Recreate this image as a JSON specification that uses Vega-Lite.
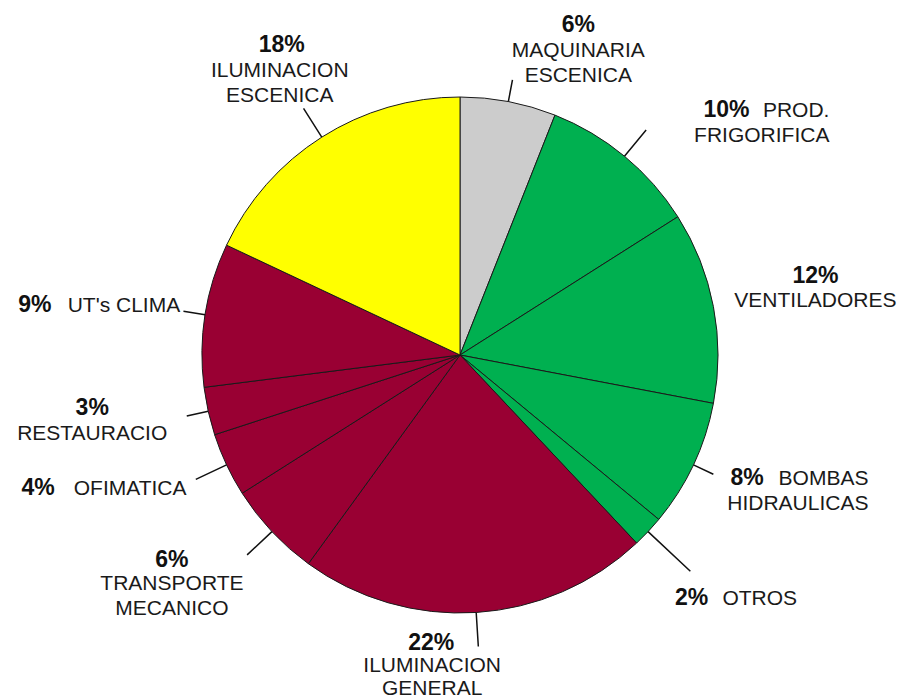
{
  "$schema": "https://vega.github.io/schema/vega-lite/v6.json",
  "autosize": {"type": "none"},
  "width": 884,
  "height": 690,
  "padding": {"left": 18, "top": 10, "right": 0, "bottom": 0},
  "background": "white",
  "config": {"view": {"stroke": null}},
  "data": {"values": [
    {"cat": "MAQUINARIA ESCENICA", "pct": 6, "label": "6%", "name": "MAQUINARIA\nESCENICA"},
    {"cat": "PROD. FRIGORIFICA", "pct": 10, "label": "10%", "name": "PROD.\nFRIGORIFICA"},
    {"cat": "VENTILADORES", "pct": 12, "label": "12%", "name": "VENTILADORES"},
    {"cat": "BOMBAS HIDRAULICAS", "pct": 8, "label": "8%", "name": "BOMBAS\nHIDRAULICAS"},
    {"cat": "OTROS", "pct": 2, "label": "2%", "name": "OTROS"},
    {"cat": "ILUMINACION GENERAL", "pct": 22, "label": "22%", "name": "ILUMINACION\nGENERAL"},
    {"cat": "TRANSPORTE MECANICO", "pct": 6, "label": "6%", "name": "TRANSPORTE\nMECANICO"},
    {"cat": "OFIMATICA", "pct": 4, "label": "4%", "name": "OFIMATICA"},
    {"cat": "RESTAURACIO", "pct": 3, "label": "3%", "name": "RESTAURACIO"},
    {"cat": "UT's CLIMA", "pct": 9, "label": "9%", "name": "UT's CLIMA"},
    {"cat": "ILUMINACION ESCENICA", "pct": 18, "label": "18%", "name": "ILUMINACION\nESCENICA"}
  ]},
  "transform": [{"window": [{"op": "row_number", "as": "k"}]}],
  "encoding": {
    "theta": {"field": "pct", "type": "quantitative", "stack": true},
    "order": {"field": "k", "type": "quantitative", "sort": "ascending"}
  },
  "layer": [
    {
      "mark": {"type": "arc", "outerRadius": 258, "stroke": "#1a1a1a", "strokeWidth": 1},
      "encoding": {
        "color": {"field": "cat", "type": "nominal", "legend": null,
          "scale": {
            "domain": ["MAQUINARIA ESCENICA", "PROD. FRIGORIFICA", "VENTILADORES", "BOMBAS HIDRAULICAS", "OTROS", "ILUMINACION GENERAL", "TRANSPORTE MECANICO", "OFIMATICA", "RESTAURACIO", "UT's CLIMA", "ILUMINACION ESCENICA"],
            "range": ["#cccccc", "#00b050", "#00b050", "#00b050", "#00b050", "#990033", "#990033", "#990033", "#990033", "#990033", "#ffff00"]
          }}
      }
    },
    {
      "mark": {"type": "arc", "innerRadius": 258, "outerRadius": 280, "padAngle": 3, "fillOpacity": 0, "fill": "white", "stroke": "#111", "strokeWidth": 1.5},
      "encoding": {
        "strokeOpacity": {"condition": {"test": "indexof([1, 4, 9, 10], datum.k) >= 0", "value": 1}, "value": 0}
      }
    },
    {
      "mark": {"type": "arc", "innerRadius": 258, "outerRadius": 292, "padAngle": 3, "fillOpacity": 0, "fill": "white", "stroke": "#111", "strokeWidth": 1.5},
      "encoding": {
        "strokeOpacity": {"condition": {"test": "indexof([2, 6, 7, 8, 11], datum.k) >= 0", "value": 1}, "value": 0}
      }
    },
    {
      "mark": {"type": "arc", "innerRadius": 258, "outerRadius": 316, "padAngle": 3, "fillOpacity": 0, "fill": "white", "stroke": "#111", "strokeWidth": 1.5},
      "encoding": {
        "strokeOpacity": {"condition": {"test": "datum.k === 5", "value": 1}, "value": 0}
      }
    },
    {"mark": {"type": "text", "radius": 258, "dx": 70, "dy": -70, "align": "center", "baseline": "alphabetic", "font": "Liberation Sans", "fontSize": 23, "fontWeight": "bold", "color": "#111"},
     "encoding": {"text": {"condition": {"test": "datum.k === 1", "field": "label", "type": "nominal"}, "value": ""}}},
    {"mark": {"type": "text", "radius": 258, "dx": 70, "dy": -45, "align": "center", "baseline": "alphabetic", "font": "Liberation Sans", "fontSize": 21, "lineBreak": "\n", "lineHeight": 25, "color": "#1a1a1a"},
     "encoding": {"text": {"condition": {"test": "datum.k === 1", "field": "name", "type": "nominal"}, "value": ""}}},

    {"mark": {"type": "text", "radius": 258, "dx": 79, "dy": -39, "align": "left", "baseline": "alphabetic", "font": "Liberation Sans", "fontSize": 23, "fontWeight": "bold", "color": "#111"},
     "encoding": {"text": {"condition": {"test": "datum.k === 2", "field": "label", "type": "nominal"}, "value": ""}}},
    {"mark": {"type": "text", "radius": 258, "dx": 205, "dy": -39, "align": "right", "baseline": "alphabetic", "font": "Liberation Sans", "fontSize": 21, "lineBreak": "\n", "lineHeight": 25, "color": "#1a1a1a"},
     "encoding": {"text": {"condition": {"test": "datum.k === 2", "field": "name", "type": "nominal"}, "value": ""}}},

    {"mark": {"type": "text", "radius": 258, "dx": 102, "dy": -24, "align": "center", "baseline": "alphabetic", "font": "Liberation Sans", "fontSize": 23, "fontWeight": "bold", "color": "#111"},
     "encoding": {"text": {"condition": {"test": "datum.k === 3", "field": "label", "type": "nominal"}, "value": ""}}},
    {"mark": {"type": "text", "radius": 258, "dx": 102, "dy": 0, "align": "center", "baseline": "alphabetic", "font": "Liberation Sans", "fontSize": 21, "lineBreak": "\n", "lineHeight": 25, "color": "#1a1a1a"},
     "encoding": {"text": {"condition": {"test": "datum.k === 3", "field": "name", "type": "nominal"}, "value": ""}}},

    {"mark": {"type": "text", "radius": 258, "dx": 37, "dy": 20, "align": "left", "baseline": "alphabetic", "font": "Liberation Sans", "fontSize": 23, "fontWeight": "bold", "color": "#111"},
     "encoding": {"text": {"condition": {"test": "datum.k === 4", "field": "label", "type": "nominal"}, "value": ""}}},
    {"mark": {"type": "text", "radius": 258, "dx": 175, "dy": 20, "align": "right", "baseline": "alphabetic", "font": "Liberation Sans", "fontSize": 21, "lineBreak": "\n", "lineHeight": 25, "color": "#1a1a1a"},
     "encoding": {"text": {"condition": {"test": "datum.k === 4", "field": "name", "type": "nominal"}, "value": ""}}},

    {"mark": {"type": "text", "radius": 258, "dx": 27, "dy": 73, "align": "left", "baseline": "alphabetic", "font": "Liberation Sans", "fontSize": 23, "fontWeight": "bold", "color": "#111"},
     "encoding": {"text": {"condition": {"test": "datum.k === 5", "field": "label", "type": "nominal"}, "value": ""}}},
    {"mark": {"type": "text", "radius": 258, "dx": 149, "dy": 73, "align": "right", "baseline": "alphabetic", "font": "Liberation Sans", "fontSize": 21, "lineBreak": "\n", "lineHeight": 25, "color": "#1a1a1a"},
     "encoding": {"text": {"condition": {"test": "datum.k === 5", "field": "name", "type": "nominal"}, "value": ""}}},

    {"mark": {"type": "text", "radius": 258, "dx": -45, "dy": 38, "align": "center", "baseline": "alphabetic", "font": "Liberation Sans", "fontSize": 23, "fontWeight": "bold", "color": "#111"},
     "encoding": {"text": {"condition": {"test": "datum.k === 6", "field": "label", "type": "nominal"}, "value": ""}}},
    {"mark": {"type": "text", "radius": 258, "dx": -44, "dy": 60, "align": "center", "baseline": "alphabetic", "font": "Liberation Sans", "fontSize": 21, "lineBreak": "\n", "lineHeight": 23, "color": "#1a1a1a"},
     "encoding": {"text": {"condition": {"test": "datum.k === 6", "field": "name", "type": "nominal"}, "value": ""}}},

    {"mark": {"type": "text", "radius": 258, "dx": -100, "dy": 35, "align": "center", "baseline": "alphabetic", "font": "Liberation Sans", "fontSize": 23, "fontWeight": "bold", "color": "#111"},
     "encoding": {"text": {"condition": {"test": "datum.k === 7", "field": "label", "type": "nominal"}, "value": ""}}},
    {"mark": {"type": "text", "radius": 258, "dx": -100, "dy": 58, "align": "center", "baseline": "alphabetic", "font": "Liberation Sans", "fontSize": 21, "lineBreak": "\n", "lineHeight": 25, "color": "#1a1a1a"},
     "encoding": {"text": {"condition": {"test": "datum.k === 7", "field": "name", "type": "nominal"}, "value": ""}}},

    {"mark": {"type": "text", "radius": 258, "dx": -205, "dy": 30, "align": "left", "baseline": "alphabetic", "font": "Liberation Sans", "fontSize": 23, "fontWeight": "bold", "color": "#111"},
     "encoding": {"text": {"condition": {"test": "datum.k === 8", "field": "label", "type": "nominal"}, "value": ""}}},
    {"mark": {"type": "text", "radius": 258, "dx": -40, "dy": 30, "align": "right", "baseline": "alphabetic", "font": "Liberation Sans", "fontSize": 21, "lineBreak": "\n", "lineHeight": 25, "color": "#1a1a1a"},
     "encoding": {"text": {"condition": {"test": "datum.k === 8", "field": "name", "type": "nominal"}, "value": ""}}},

    {"mark": {"type": "text", "radius": 258, "dx": -116, "dy": 4, "align": "center", "baseline": "alphabetic", "font": "Liberation Sans", "fontSize": 23, "fontWeight": "bold", "color": "#111"},
     "encoding": {"text": {"condition": {"test": "datum.k === 9", "field": "label", "type": "nominal"}, "value": ""}}},
    {"mark": {"type": "text", "radius": 258, "dx": -116, "dy": 29, "align": "center", "baseline": "alphabetic", "font": "Liberation Sans", "fontSize": 21, "lineBreak": "\n", "lineHeight": 25, "color": "#1a1a1a"},
     "encoding": {"text": {"condition": {"test": "datum.k === 9", "field": "name", "type": "nominal"}, "value": ""}}},

    {"mark": {"type": "text", "radius": 258, "dx": -187, "dy": -3, "align": "left", "baseline": "alphabetic", "font": "Liberation Sans", "fontSize": 23, "fontWeight": "bold", "color": "#111"},
     "encoding": {"text": {"condition": {"test": "datum.k === 10", "field": "label", "type": "nominal"}, "value": ""}}},
    {"mark": {"type": "text", "radius": 258, "dx": -25, "dy": -3, "align": "right", "baseline": "alphabetic", "font": "Liberation Sans", "fontSize": 21, "lineBreak": "\n", "lineHeight": 25, "color": "#1a1a1a"},
     "encoding": {"text": {"condition": {"test": "datum.k === 10", "field": "name", "type": "nominal"}, "value": ""}}},

    {"mark": {"type": "text", "radius": 258, "dx": -40, "dy": -85, "align": "center", "baseline": "alphabetic", "font": "Liberation Sans", "fontSize": 23, "fontWeight": "bold", "color": "#111"},
     "encoding": {"text": {"condition": {"test": "datum.k === 11", "field": "label", "type": "nominal"}, "value": ""}}},
    {"mark": {"type": "text", "radius": 258, "dx": -42, "dy": -60, "align": "center", "baseline": "alphabetic", "font": "Liberation Sans", "fontSize": 21, "lineBreak": "\n", "lineHeight": 25, "color": "#1a1a1a"},
     "encoding": {"text": {"condition": {"test": "datum.k === 11", "field": "name", "type": "nominal"}, "value": ""}}}
  ]
}
